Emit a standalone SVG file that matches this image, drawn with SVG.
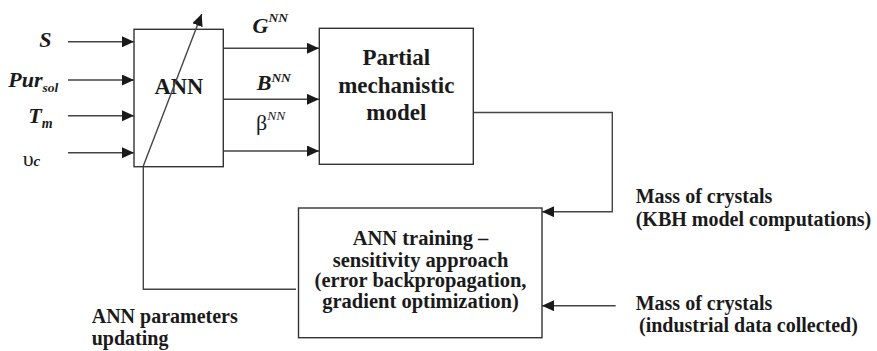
<svg xmlns="http://www.w3.org/2000/svg" width="877" height="351" viewBox="0 0 877 351">
<style>
.box{fill:#fff;stroke:#333;stroke-width:1.4}
.ln{fill:none;stroke:#444;stroke-width:1.4}
text{font-family:'Liberation Serif','Times New Roman',Times,serif;fill:#1a1a1a}
.t{font-weight:bold}
.bi{font-weight:bold;font-style:italic}
</style>
<defs>
<marker id="ah" markerUnits="userSpaceOnUse" markerWidth="13" markerHeight="12" refX="12" refY="5.5" orient="auto">
<path d="M0,0 L12,5.5 L0,11 z" fill="#1a1a1a"/>
</marker>
</defs>
<g id="connectors">
<line class="ln" x1="68" y1="41.7" x2="134" y2="41.7" marker-end="url(#ah)"/>
<line class="ln" x1="68" y1="80" x2="134" y2="80" marker-end="url(#ah)"/>
<line class="ln" x1="68" y1="115.7" x2="134" y2="115.7" marker-end="url(#ah)"/>
<line class="ln" x1="68" y1="152.7" x2="134" y2="152.7" marker-end="url(#ah)"/>
<line class="ln" x1="223" y1="48.3" x2="319" y2="48.3" marker-end="url(#ah)"/>
<line class="ln" x1="223" y1="99.3" x2="319" y2="99.3" marker-end="url(#ah)"/>
<line class="ln" x1="223" y1="151" x2="319" y2="151" marker-end="url(#ah)"/>
<polyline class="ln" points="473,112.5 612.3,112.5 612.3,211.7 542,211.7" marker-end="url(#ah)"/>
<line class="ln" x1="615.7" y1="305.7" x2="542" y2="305.7" marker-end="url(#ah)"/>
<polyline class="ln" points="143.3,166 143.3,289.3 296,289.3"/>
</g>
<g id="ann">
<rect class="box" x="134" y="29.3" width="89.3" height="137.4"/>
<text class="t" x="178.8" y="94" font-size="22.5" text-anchor="middle">ANN</text>
<line class="ln" x1="143.3" y1="166" x2="201.7" y2="14" marker-end="url(#ah)"/>
</g>
<g id="partial">
<rect class="box" x="319.3" y="28.3" width="154" height="136"/>
<text class="t" font-size="23" text-anchor="middle"><tspan x="396.3" y="65">Partial</tspan><tspan x="396.3" y="92.5">mechanistic</tspan><tspan x="396.3" y="120">model</tspan></text>
</g>
<g id="training">
<rect class="box" x="298.5" y="208" width="243.5" height="129.7"/>
<text class="t" font-size="20.5" text-anchor="middle"><tspan x="420.5" y="245">ANN training –</tspan><tspan x="420.5" y="266.5">sensitivity approach</tspan><tspan x="420.5" y="287.3">(error backpropagation,</tspan><tspan x="420.5" y="307.5">gradient optimization)</tspan></text>
</g>
<g id="labels">
<text class="bi" x="39.3" y="46.7" font-size="22">S</text>
<text class="bi" x="8.3" y="87" font-size="22">Pur<tspan font-size="13.5" dy="4.7">sol</tspan></text>
<text class="bi" x="28.3" y="123.3" font-size="22">T<tspan font-size="14" dy="4.7">m</tspan></text>
<text x="22.7" y="166" font-size="22">υ<tspan class="bi" font-size="15">c</tspan></text>
<text class="bi" x="252.5" y="33.3" font-size="22">G<tspan font-size="13.5" dy="-11">NN</tspan></text>
<text class="bi" x="256.7" y="90" font-size="22">B<tspan font-size="13.5" dy="-8.5">NN</tspan></text>
<text x="256" y="130" font-size="22">β<tspan font-style="italic" font-size="13.5" dy="-10">NN</tspan></text>
<text class="t" font-size="20"><tspan x="635.7" y="203.3">Mass of crystals</tspan><tspan x="635.7" y="225.7">(KBH model computations)</tspan></text>
<text class="t" font-size="20"><tspan x="635.7" y="310">Mass of crystals</tspan><tspan x="639" y="331.7">(industrial data collected)</tspan></text>
<text class="t" font-size="20"><tspan x="91.7" y="323.3">ANN parameters</tspan><tspan x="91.7" y="345">updating</tspan></text>
</g>
</svg>
